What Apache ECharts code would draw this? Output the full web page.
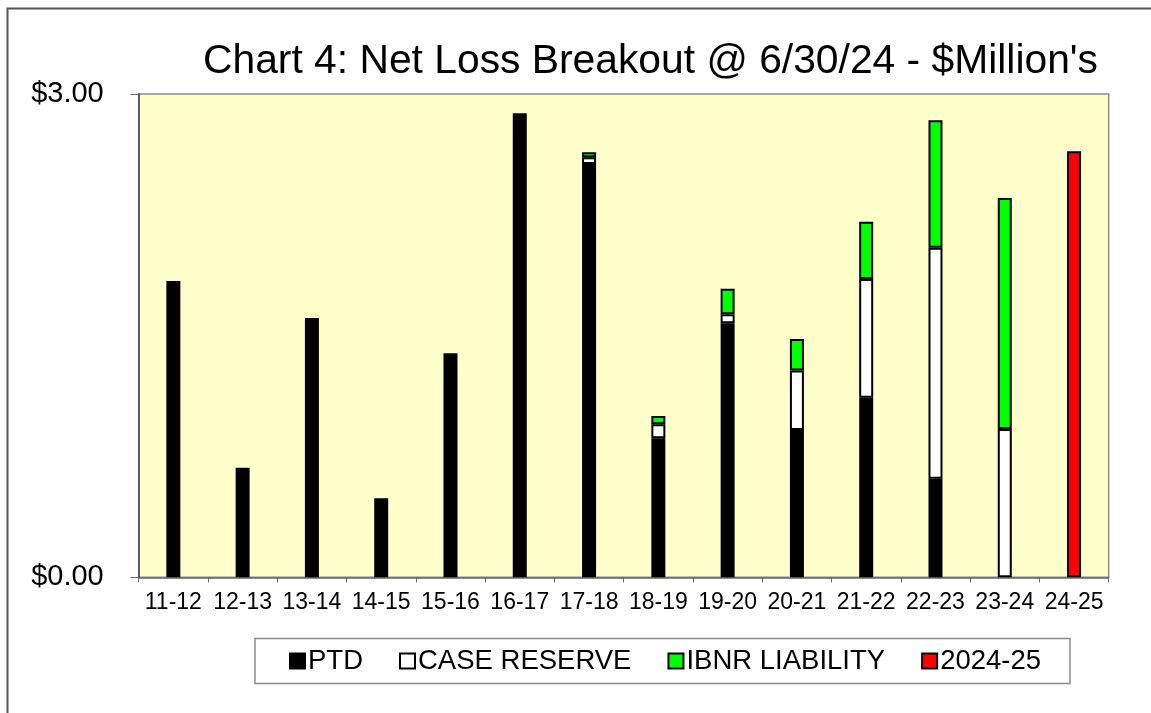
<!DOCTYPE html>
<html>
<head>
<meta charset="utf-8">
<title>Chart 4: Net Loss Breakout</title>
<script src="https://cdn.jsdelivr.net/npm/echarts@6/dist/echarts.min.js"></script>
<style>
  html, body { margin: 0; padding: 0; background: #fff; }
  #chart { width: 1151px; height: 713px; }
</style>
</head>
<body>
<div id="chart"></div>
<script>
// Policy years on the x axis
const years = ['11-12', '12-13', '13-14', '14-15', '15-16', '16-17', '17-18',
  '18-19', '19-20', '20-21', '21-22', '22-23', '23-24', '24-25'];

// $ millions (null = no segment)
const ptd = [1.84, 0.68, 1.61, 0.49, 1.39, 2.88, 2.565, 0.863, 1.577, 0.914, 1.115, 0.612, null, null];
const caseReserve = [null, null, null, null, null, null, 0.042, 0.087, 0.056, 0.369, 0.737, 1.434, 0.921, null];
const ibnr = [null, null, null, null, null, null, 0.031, 0.051, 0.158, 0.196, 0.355, 0.791, 1.433, null];
const current = [null, null, null, null, null, null, null, null, null, null, null, null, null, 2.644];

const yMin = 0;
const yMax = 3;

const font = 'Liberation Sans, Arial, sans-serif';

const barSeries = (name, data, color) => ({
  name: name,
  type: 'bar',
  stack: 'loss',
  data: data,
  barWidth: 14,
  itemStyle: { color: color, borderColor: '#000', borderWidth: 2 }
});

const option = {
  animation: false,
  textStyle: { fontFamily: font },
  title: {
    text: 'Chart 4: Net Loss Breakout @ 6/30/24 - $Million\'s',
    left: 198,
    top: 36,
    textStyle: { fontSize: 40.8, fontWeight: 'normal', color: '#000', fontFamily: font }
  },
  grid: {
    left: 138.7,
    right: 42.3,
    top: 94,
    bottom: 135.7,
    show: true,
    backgroundColor: '#FFFFCC',
    borderColor: '#8c8c8c',
    borderWidth: 1.5
  },
  legend: {
    data: ['PTD', 'CASE RESERVE', 'IBNR LIABILITY', '2024-25'],
    left: 289,
    top: 647,
    padding: 0,
    itemGap: 36,
    itemWidth: 15,
    itemHeight: 15,
    icon: 'rect',
    textStyle: { fontSize: 27.5, color: '#000', padding: [0, 0, 0, -2] }
  },
  xAxis: {
    type: 'category',
    data: years,
    axisLine: { lineStyle: { color: '#666', width: 1.5 } },
    axisTick: { show: true, length: 5, lineStyle: { color: '#666' } },
    axisLabel: { interval: 0, fontSize: 23, color: '#000', margin: 14 }
  },
  yAxis: {
    type: 'value',
    min: yMin,
    max: yMax,
    interval: 3,
    splitLine: { show: false },
    axisLine: { show: true, lineStyle: { color: '#444', width: 1.5 } },
    axisTick: { show: true, length: 8, lineStyle: { color: '#666' } },
    axisLabel: {
      fontSize: 29,
      color: '#000',
      margin: 35,
      formatter: v => '$' + v.toFixed(2)
    }
  },
  graphic: [
    {
      type: 'rect',
      shape: { x: 7.5, y: 8.5, width: 1300, height: 900 },
      style: { fill: 'none', stroke: '#555', lineWidth: 2 },
      silent: true
    },
    {
      type: 'rect',
      shape: { x: 255, y: 638.5, width: 815, height: 45 },
      style: { fill: 'none', stroke: '#8c8c8c', lineWidth: 1.5 },
      silent: true
    }
  ],
  series: [
    barSeries('PTD', ptd, '#000000'),
    barSeries('CASE RESERVE', caseReserve, '#FFFFFF'),
    barSeries('IBNR LIABILITY', ibnr, '#00FF00'),
    barSeries('2024-25', current, '#FF0000')
  ]
};

const myChart = echarts.init(document.getElementById('chart'));
myChart.setOption(option);
</script>
</body>
</html>
